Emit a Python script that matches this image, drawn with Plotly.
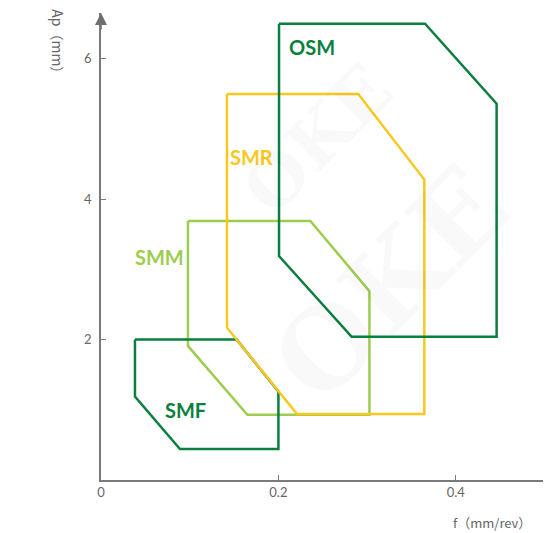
import plotly.graph_objects as go

# Chip-breaker application regions: feed f (mm/rev) vs depth of cut Ap (mm)
osm_f = [0.2007, 0.3653, 0.446, 0.446, 0.2826, 0.2007, 0.2007]
osm_ap = [6.5, 6.5, 5.36, 2.04, 2.04, 3.19, 6.5]

smr_f = [0.142, 0.290, 0.3645, 0.3645, 0.221, 0.142, 0.142]
smr_ap = [5.5, 5.5, 4.28, 0.94, 0.94, 2.17, 5.5]

smm_f = [0.098, 0.236, 0.3026, 0.3026, 0.165, 0.098, 0.098]
smm_ap = [3.69, 3.69, 2.69, 0.93, 0.93, 1.91, 3.69]

smf_f = [0.0383, 0.153, 0.2, 0.2, 0.089, 0.0383, 0.0383]
smf_ap = [2.0, 2.0, 1.26, 0.44, 0.44, 1.19, 2.0]

labels = ["SMM", "SMF", "SMR", "OSM"]
label_f = [0.0665, 0.0958, 0.170, 0.2379]
label_ap = [3.18, 1.0, 4.6, 6.17]

x_ticks = [0, 0.2, 0.4]
x_tick_text = ["0", "0.2", "0.4"]
y_ticks = [2, 4, 6]
y_tick_text = ["2", "4", "6"]

DARK = "#0a7f3f"
LIGHT = "#9ccd4f"
YELLOW = "#f9c81e"

series = [
    ("SMM", smm_f, smm_ap, LIGHT),
    ("SMF", smf_f, smf_ap, DARK),
    ("SMR", smr_f, smr_ap, YELLOW),
    ("OSM", osm_f, osm_ap, DARK),
]
colors = {"SMM": LIGHT, "SMF": DARK, "SMR": YELLOW, "OSM": DARK}

fig = go.Figure()
for name, fx, fy, col in series:
    fig.add_trace(go.Scatter(
        x=fx, y=fy, mode="lines", name=name,
        line=dict(color=col, width=2.5),
        hoverinfo="name", cliponaxis=False, showlegend=False,
    ))

annotations = []
for name, lx, ly in zip(labels, label_f, label_ap):
    annotations.append(dict(
        x=lx, y=ly, xref="x", yref="y", text="<b>%s</b>" % name,
        showarrow=False, font=dict(family="Lato, Noto Sans", size=20, color=colors[name]),
    ))

# faint watermark
for wx, wy, ws in [(0.32, 0.42, 110), (0.48, 0.93, 70)]:
    annotations.append(dict(
        x=wx, y=wy, xref="paper", yref="paper", text="<b>OKE</b>", showarrow=False,
        textangle=-45, font=dict(family="DejaVu Serif", size=ws, color="rgba(0,0,0,0.025)"),
    ))

# axis arrow on y axis
annotations.append(dict(
    x=0, y=1.0, xref="paper", yref="paper", ax=0, ay=18, axref="pixel", ayref="pixel",
    showarrow=True, arrowhead=2, arrowsize=1.6, arrowwidth=1.5, arrowcolor="#6e6e6e", text="",
))
# axis titles
annotations.append(dict(
    x=-0.0956, y=0.931, xref="paper", yref="paper", xanchor="center", yanchor="middle",
    text="Ap（mm）", showarrow=False, textangle=90,
    font=dict(family="Noto Sans CJK SC", size=14, color="#666666"),
))
annotations.append(dict(
    x=0.869, y=-0.09, xref="paper", yref="paper", xanchor="center", yanchor="middle",
    text="f（mm/rev）", showarrow=False,
    font=dict(family="Noto Sans CJK SC", size=13, color="#666666"),
))

# page body has an 8px default margin, so size/margins compensate for it
fig.update_layout(
    width=543, height=525,
    margin=dict(l=93, r=0, t=5, b=53),
    paper_bgcolor="white", plot_bgcolor="white",
    annotations=annotations,
    xaxis=dict(
        range=[0, 0.5073], tickvals=x_ticks, ticktext=x_tick_text,
        showgrid=False, zeroline=False, showline=True, linecolor="#7a7a7a", linewidth=1.5,
        ticks="inside", ticklen=5, tickcolor="#7a7a7a",
        tickfont=dict(family="Lato, Noto Sans", size=13, color="#666666"),
    ),
    yaxis=dict(
        range=[0, 6.653], tickvals=y_ticks, ticktext=y_tick_text,
        showgrid=False, zeroline=False, showline=True, linecolor="#7a7a7a", linewidth=1.5,
        ticks="inside", ticklen=5, tickcolor="#7a7a7a", ticklabelstandoff=5,
        tickfont=dict(family="Lato, Noto Sans", size=13, color="#666666"),
    ),
)

fig.write_html("out.html")
